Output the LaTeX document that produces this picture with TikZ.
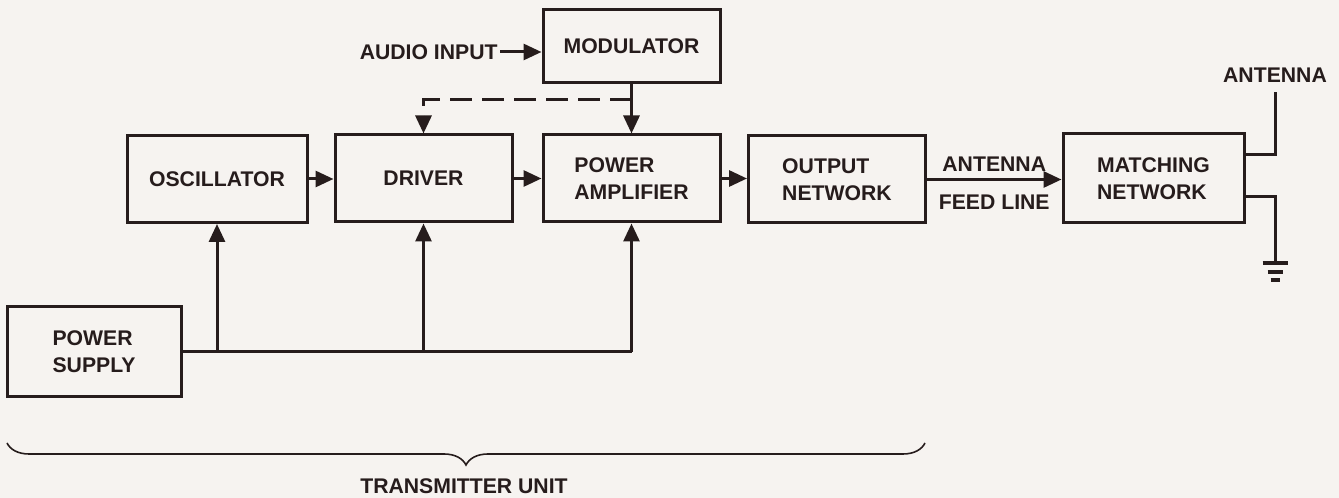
\documentclass[tikz,border=0pt]{standalone}
\usepackage{fontspec}
\setmainfont{Liberation Sans}
\usepackage{tikz}
\usetikzlibrary{arrows.meta,positioning,calc,decorations.pathreplacing}
\definecolor{ink}{RGB}{38,28,28}
\definecolor{paper}{RGB}{246,243,240}

\begin{document}
\begin{tikzpicture}[x=0.5pt,y=0.5pt,
  blk/.style={draw=ink,line width=1.5pt,minimum width=88.5pt,minimum height=43.5pt,inner sep=0pt,align=left,text=ink,font=\fontsize{10.6}{13.5}\selectfont\bfseries},
  lbl/.style={text=ink,inner sep=1pt,font=\fontsize{10.6}{13.5}\selectfont\bfseries},
  wire/.style={draw=ink,line width=1.5pt},
  feed/.style={wire,-{Triangle[length=9pt,width=8pt]}}]
\fill[paper] (0,0) rectangle (1339,498);
\useasboundingbox (0,0) rectangle (1339,498);
% blocks
\node[blk,minimum width=90pt] (osc) at (217,319) {OSCILLATOR};
\node[blk] (drv) at (423.5,319.5) {DRIVER};
\node[blk] (pa) at (631.5,319.5) {POWER\\AMPLIFIER};
\node[blk,minimum height=36.5pt] (mod) at (631.5,451.5) {MODULATOR};
\node[blk] (out) at (837,318.5) {OUTPUT\\NETWORK};
\node[blk,minimum width=90.5pt,minimum height=44.5pt] (match) at (1153.5,319.5) {MATCHING\\NETWORK};
\node[blk,minimum width=87pt,minimum height=45pt] (ps) at (94,146) {POWER\\SUPPLY};
\node[lbl,anchor=east] (audio) at (500,446) {AUDIO INPUT};
\node[lbl,inner sep=4.5pt] (ant) at (1275,423) {ANTENNA};
\node[lbl] (tx) at (464,12) {TRANSMITTER UNIT};
% signal path
\foreach \a/\b in {osc/drv,drv/pa,pa/out}
  \draw[feed] (\a.east) -- (\a.east -| \b.west);
\draw[feed] (audio.east) -- (audio.east -| mod.west);
\draw[feed] (mod.south) -- (pa.north);
\coordinate (split) at ($(mod.south)!0.31!(pa.north)$);
\draw[feed,dash pattern=on 11pt off 5pt] (split) -| (drv.north);
\draw[feed] (out.east) -- (out.east -| match.west)
  node[midway,above=2pt,lbl]{ANTENNA} node[midway,below=6pt,lbl]{FEED LINE};
% power bus
\draw[wire] (ps.east) -- (ps.east -| pa.south);
\foreach \n in {osc,drv,pa}
  \draw[feed] (ps.east -| \n.south) -- (\n.south);
% antenna and ground
\draw[wire] ($(match.north east)!0.24!(match.south east)$) -| (ant.south);
\coordinate (gnd) at (1275,235);
\draw[wire] ($(match.north east)!0.70!(match.south east)$) -| (gnd);
\foreach \w/\d in {12.5/0,7.5/9,4.5/17}
  \draw[ink,line width=2pt] ($(gnd)+(-\w,-\d)$) -- ($(gnd)+(\w,-\d)$);
% transmitter unit
\draw[ink,line width=0.8pt,decorate,decoration={brace,mirror,amplitude=11pt}] (7,55) -- (925,55);
\end{tikzpicture}
\end{document}
